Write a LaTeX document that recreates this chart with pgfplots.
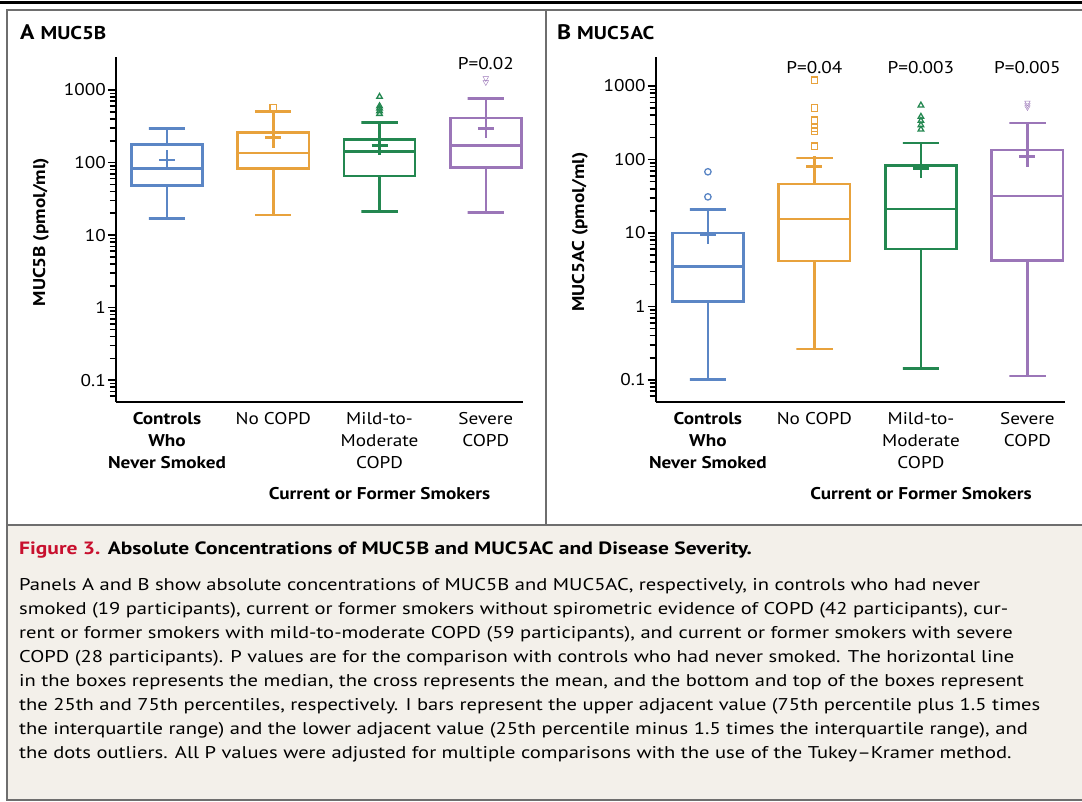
\documentclass[border=0pt]{standalone}
\usepackage{fontspec}
\setmainfont{PT Sans}[FakeStretch=1.13]
\newfontfamily\capfont{PT Sans}[FakeStretch=1.21]
\usepackage{pgfplots}
\pgfplotsset{compat=1.18}
\definecolor{cblue}{RGB}{91,134,197}
\definecolor{corange}{RGB}{232,162,60}
\definecolor{cgreen}{RGB}{35,135,80}
\definecolor{cpurple}{RGB}{155,118,184}
\definecolor{figred}{RGB}{200,16,46}
\definecolor{capbg}{RGB}{243,240,234}
\definecolor{frame}{RGB}{110,110,110}
\tikzset{
  bxs/.style={line width=2.6pt, mark=none},
  mean/.style={only marks, mark=+, mark size=8pt, mark options={yscale=1.25, line width=2.6pt}},
  outl/.style={only marks, mark size=3.2pt, mark options={solid, line width=1.3pt, fill=white}},
}
\pgfplotsset{
  every axis/.append style={
    scale only axis, anchor=south west, clip=false,
    axis x line*=bottom, axis y line*=left,
    axis line style={-, line width=2.4pt, black},
    xtick={0,1,2,3}, xtick style={draw=none},
    tick align=outside, ytick pos=left,
    major tick length=8pt, minor tick length=6pt,
    ytick style={line width=1.6pt, black},
    yticklabel style={font=\fontsize{17}{20}\selectfont, inner sep=2pt},
    xticklabel style={font=\fontsize{17}{22}\selectfont, align=center, anchor=north, inner sep=0pt, yshift=-2pt},
  },
}
\begin{document}
\begin{tikzpicture}[x=1pt,y=1pt]
\useasboundingbox (0,0) rectangle (1082,-802);
% frames
\fill[capbg] (7,-525) rectangle (1082,-800);
\draw[line width=3pt] (0,-3) -- (1082,-3);
\draw[frame, line width=2pt] (1082,-10) -- (7,-10) -- (7,-800) -- (1082,-800);
\draw[frame, line width=2pt] (7,-525) -- (1082,-525);
\draw[frame, line width=2pt] (546,-10) -- (546,-525);
% panel titles
\node[anchor=west, inner sep=0pt] at (20,-32) {\bfseries\fontsize{21}{24}\selectfont A\hspace{6pt}\fontsize{18.5}{20}\selectfont MUC5B};
\node[anchor=west, inner sep=0pt] at (557,-32) {\bfseries\fontsize{21}{24}\selectfont B\hspace{6pt}\fontsize{18.5}{20}\selectfont MUC5AC};
% y labels
\node[rotate=90, inner sep=0pt] at (41,-232) {\bfseries\fontsize{17}{20}\selectfont MUC5B (pmol/ml)};
\node[rotate=90, inner sep=0pt] at (580,-232) {\bfseries\fontsize{17}{20}\selectfont MUC5AC (pmol/ml)};
% group labels
\node[inner sep=0pt] at (379.5,-494) {\bfseries\fontsize{17}{20}\selectfont Current or Former Smokers};
\node[inner sep=0pt] at (921,-494) {\bfseries\fontsize{17}{20}\selectfont Current or Former Smokers};

% ---------------- Panel A ----------------
\begin{axis}[at={(116pt,-402pt)}, width=407pt, height=345pt,
  ymode=log, ymin=0.05, ymax=2850, xmin=-0.48, xmax=3.35,
  ytick={0.1,1,10,100,1000}, yticklabels={0.1,1,10,100,1000},
  minor ytick={0.06,0.07,0.08,0.09,0.2,0.3,0.4,0.5,0.6,0.7,0.8,0.9,2,3,4,5,6,7,8,9,20,30,40,50,60,70,80,90,200,300,400,500,600,700,800,900},
  xticklabels={{\textbf{Controls}\\\textbf{Who}\\\textbf{Never Smoked}},{No COPD},{Mild-to-\\Moderate\\COPD},{Severe\\COPD}},
]
% Controls (blue): 17, 48, 83, 176, 296; mean 108
\addplot[bxs, cblue] coordinates {(-0.335,48) (0.335,48) (0.335,176) (-0.335,176)} -- cycle;
\addplot[bxs, cblue] coordinates {(-0.335,83) (0.335,83)};
\addplot[bxs, cblue] coordinates {(0,176) (0,296) (-0.17,296) (0.17,296)};
\addplot[bxs, cblue] coordinates {(0,48) (0,17) (-0.17,17) (0.17,17)};
\addplot[mean, cblue] coordinates {(0,108)};
% No COPD (orange): 18.9, 83, 136, 261, 508; mean 220
\addplot[bxs, corange] coordinates {(0.665,83) (1.335,83) (1.335,261) (0.665,261)} -- cycle;
\addplot[bxs, corange] coordinates {(0.665,136) (1.335,136)};
\addplot[bxs, corange] coordinates {(1,261) (1,508) (0.83,508) (1.17,508)};
\addplot[bxs, corange] coordinates {(1,83) (1,18.9) (0.83,18.9) (1.17,18.9)};
\addplot[mean, corange] coordinates {(1,220)};
\addplot[outl, corange, mark=square] coordinates {(1,570)};
% Mild-to-moderate (green): 21.2, 65, 141, 209, 354; mean 173
\addplot[bxs, cgreen] coordinates {(1.665,65) (2.335,65) (2.335,209) (1.665,209)} -- cycle;
\addplot[bxs, cgreen] coordinates {(1.665,141) (2.335,141)};
\addplot[bxs, cgreen] coordinates {(2,209) (2,354) (1.83,354) (2.17,354)};
\addplot[bxs, cgreen] coordinates {(2,65) (2,21.2) (1.83,21.2) (2.17,21.2)};
\addplot[mean, cgreen] coordinates {(2,173)};
\addplot[outl, cgreen, mark=triangle] coordinates {(2,809) (2,600) (2,559) (2,513) (2,470)};
% Severe (purple): 20.6, 86, 171, 411, 768; mean 296
\addplot[bxs, cpurple] coordinates {(2.665,86) (3.335,86) (3.335,411) (2.665,411)} -- cycle;
\addplot[bxs, cpurple] coordinates {(2.665,171) (3.335,171)};
\addplot[bxs, cpurple] coordinates {(3,411) (3,768) (2.83,768) (3.17,768)};
\addplot[bxs, cpurple] coordinates {(3,86) (3,20.6) (2.83,20.6) (3.17,20.6)};
\addplot[mean, cpurple] coordinates {(3,296)};
\addplot[outl, cpurple, mark=triangle, mark options={rotate=180}] coordinates {(3,1450) (3,1277)};
\node[inner sep=0pt, font=\fontsize{17}{20}\selectfont] at (axis cs:3,2285) {P=0.02};
\end{axis}

% ---------------- Panel B ----------------
\begin{axis}[at={(655.7pt,-402pt)}, width=409pt, height=345pt,
  ymode=log, ymin=0.05, ymax=2483, xmin=-0.49, xmax=3.35,
  ytick={0.1,1,10,100,1000}, yticklabels={0.1,1,10,100,1000},
  minor ytick={0.06,0.07,0.08,0.09,0.2,0.3,0.4,0.5,0.6,0.7,0.8,0.9,2,3,4,5,6,7,8,9,20,30,40,50,60,70,80,90,200,300,400,500,600,700,800,900},
  xticklabels={{\textbf{Controls}\\\textbf{Who}\\\textbf{Never Smoked}},{No COPD},{Mild-to-\\Moderate\\COPD},{Severe\\COPD}},
]
% Controls (blue): 0.102, 1.16, 3.48, 10, 21; mean 9.6
\addplot[bxs, cblue] coordinates {(-0.335,1.16) (0.335,1.16) (0.335,10) (-0.335,10)} -- cycle;
\addplot[bxs, cblue] coordinates {(-0.335,3.48) (0.335,3.48)};
\addplot[bxs, cblue] coordinates {(0,10) (0,21) (-0.17,21) (0.17,21)};
\addplot[bxs, cblue] coordinates {(0,1.16) (0,0.102) (-0.17,0.102) (0.17,0.102)};
\addplot[mean, cblue] coordinates {(0,9.6)};
\addplot[outl, cblue, mark=o] coordinates {(0,68) (0,31)};
% No COPD (orange): 0.264, 4.16, 15.4, 46.4, 105; mean 80.8
\addplot[bxs, corange] coordinates {(0.665,4.16) (1.335,4.16) (1.335,46.4) (0.665,46.4)} -- cycle;
\addplot[bxs, corange] coordinates {(0.665,15.4) (1.335,15.4)};
\addplot[bxs, corange] coordinates {(1,46.4) (1,105) (0.83,105) (1.17,105)};
\addplot[bxs, corange] coordinates {(1,4.16) (1,0.264) (0.83,0.264) (1.17,0.264)};
\addplot[mean, corange] coordinates {(1,80.8)};
\addplot[outl, corange, mark=square] coordinates {(1,1200) (1,502) (1,344) (1,268) (1,242) (1,151)};
% Mild-to-moderate (green): 0.143, 6.05, 21.2, 83.4, 168; mean 76
\addplot[bxs, cgreen] coordinates {(1.665,6.05) (2.335,6.05) (2.335,83.4) (1.665,83.4)} -- cycle;
\addplot[bxs, cgreen] coordinates {(1.665,21.2) (2.335,21.2)};
\addplot[bxs, cgreen] coordinates {(2,83.4) (2,168) (1.83,168) (2.17,168)};
\addplot[bxs, cgreen] coordinates {(2,6.05) (2,0.143) (1.83,0.143) (2.17,0.143)};
\addplot[mean, cgreen] coordinates {(2,76)};
\addplot[outl, cgreen, mark=triangle] coordinates {(2,546) (2,383) (2,337) (2,294) (2,257)};
% Severe (purple): 0.113, 4.25, 31.9, 134.6, 314; mean 109
\addplot[bxs, cpurple] coordinates {(2.665,4.25) (3.335,4.25) (3.335,134.6) (2.665,134.6)} -- cycle;
\addplot[bxs, cpurple] coordinates {(2.665,31.9) (3.335,31.9)};
\addplot[bxs, cpurple] coordinates {(3,134.6) (3,314) (2.83,314) (3.17,314)};
\addplot[bxs, cpurple] coordinates {(3,4.25) (3,0.113) (2.83,0.113) (3.17,0.113)};
\addplot[mean, cpurple] coordinates {(3,109)};
\addplot[outl, cpurple, mark=triangle, mark options={rotate=180}] coordinates {(3,593) (3,550) (3,513)};
\node[inner sep=0pt, font=\fontsize{17}{20}\selectfont] at (axis cs:1,1812) {P=0.04};
\node[inner sep=0pt, font=\fontsize{17}{20}\selectfont] at (axis cs:2,1812) {P=0.003};
\node[inner sep=0pt, font=\fontsize{17}{20}\selectfont] at (axis cs:3,1812) {P=0.005};
\end{axis}

% caption
\node[anchor=west, inner sep=0pt, font=\capfont\bfseries\fontsize{17.8}{24}\selectfont] at (19,-550) {\textcolor{figred}{Figure 3.} Absolute Concentrations of MUC5B and MUC5AC and Disease Severity.};
\node[anchor=north west, inner sep=0pt, align=left, font=\capfont\fontsize{17}{24}\selectfont] at (19,-578) {%
Panels A and B show absolute concentrations of MUC5B and MUC5AC, respectively, in controls who had never\\
smoked (19 participants), current or former smokers without spirometric evidence of COPD (42 participants), cur-\\
rent or former smokers with mild-to-moderate COPD (59 participants), and current or former smokers with severe\\
COPD (28 participants). P values are for the comparison with controls who had never smoked. The horizontal line\\
in the boxes represents the median, the cross represents the mean, and the bottom and top of the boxes represent\\
the 25th and 75th percentiles, respectively. I bars represent the upper adjacent value (75th percentile plus 1.5 times\\
the interquartile range) and the lower adjacent value (25th percentile minus 1.5 times the interquartile range), and\\
the dots outliers. All P values were adjusted for multiple comparisons with the use of the Tukey\textendash Kramer method.};
\end{tikzpicture}
\end{document}
